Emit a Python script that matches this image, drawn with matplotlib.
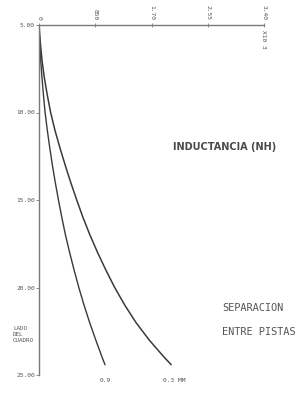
import matplotlib
matplotlib.use("Agg")
import matplotlib.pyplot as plt

# Data: side of square (y) vs inductance in nH (x), for two track separations
side_03 = [5, 6, 7, 8, 9, 10, 11, 12, 13, 14, 15, 16, 17, 18, 19, 20, 21, 22, 23, 24, 24.4]
ind_03 = [0, 20, 45, 80, 125, 176, 240, 315, 395, 480, 570, 665, 770, 885, 1010, 1144,
          1295, 1465, 1665, 1895, 1995]
side_09 = [5, 6, 7, 8, 9, 10, 11, 12, 13, 14, 15, 16, 17, 18, 19, 20, 21, 22, 23, 24, 24.4]
ind_09 = [0, 10, 25, 45, 67, 92, 125, 162, 202, 246, 294, 345, 400, 463, 530, 602,
          680, 765, 858, 955, 996]

y_ticks = [5, 10, 15, 20, 25]
y_ticklabels = ["5.00", "10.00", "15.00", "20.00", "25.00"]
x_ticks = [0, 850, 1700, 2550, 3400]
x_ticklabels = ["0", "850", "1.70", "2.55", "3.40"]

W, H = 306, 394
fig = plt.figure(figsize=(W / 100, H / 100), dpi=100)
fig.patch.set_facecolor("white")
ax = fig.add_axes([39 / W, 1 - 375 / H, (264 - 39) / W, (375 - 25) / H])

line_col = "#3a3a3a"
axis_col = "#7a7a7a"
text_col = "#555555"

ax.plot(ind_03, side_03, color=line_col, lw=1.1, solid_joinstyle="round")
ax.plot(ind_09, side_09, color=line_col, lw=1.0, solid_joinstyle="round")

ax.set_xlim(0, 3400)
ax.set_ylim(25, 5)
for s in ["right", "bottom"]:
    ax.spines[s].set_visible(False)
for s in ["left", "top"]:
    ax.spines[s].set_color(axis_col)
    ax.spines[s].set_linewidth(1.0)

mono = "DejaVu Sans Mono"
ax.set_yticks(y_ticks)
ax.set_yticklabels(y_ticklabels, fontsize=4.5, family=mono, color=text_col)
ax.tick_params(axis="y", direction="out", length=2, width=0.6, color=axis_col, pad=1)

ax.xaxis.tick_top()
ax.set_xticks(x_ticks)
ax.set_xticklabels(x_ticklabels, fontsize=4.5, family=mono, color=text_col, rotation=270)
ax.tick_params(axis="x", direction="inout", length=3, width=0.6, color=axis_col, pad=2)

# x10^3 note under last tick
ax.text(3400, 5.3, "X10 3", rotation=270, fontsize=4.5, family=mono, color=text_col,
        ha="center", va="top")

# curve labels
ax.text(ind_09[-1], 25.3, "0.9", fontsize=4.5, family=mono, color=text_col, ha="center", va="center")
ax.text(2040, 25.3, "0.3 MM", fontsize=4.5, family=mono, color=text_col, ha="center", va="center")

# y axis label
fig.text(13 / W, 1 - 334 / H, "LADO\nDEL\nCUADRO", fontsize=4.2, family=mono, color=text_col,
         ha="left", va="center", linespacing=1.25)

fig.text(225 / W, 1 - 147 / H, "INDUCTANCIA (NH)", fontsize=7, fontweight="bold",
         color="#4a4a4a", ha="center", va="center")

fig.text(222 / W, 1 - 308 / H, "SEPARACION", fontsize=7.4, family=mono, color="#555555",
         ha="left", va="center")
fig.text(222 / W, 1 - 332 / H, "ENTRE PISTAS", fontsize=7.4, family=mono, color="#555555",
         ha="left", va="center")

fig.savefig("out.png", dpi=100, facecolor="white")
